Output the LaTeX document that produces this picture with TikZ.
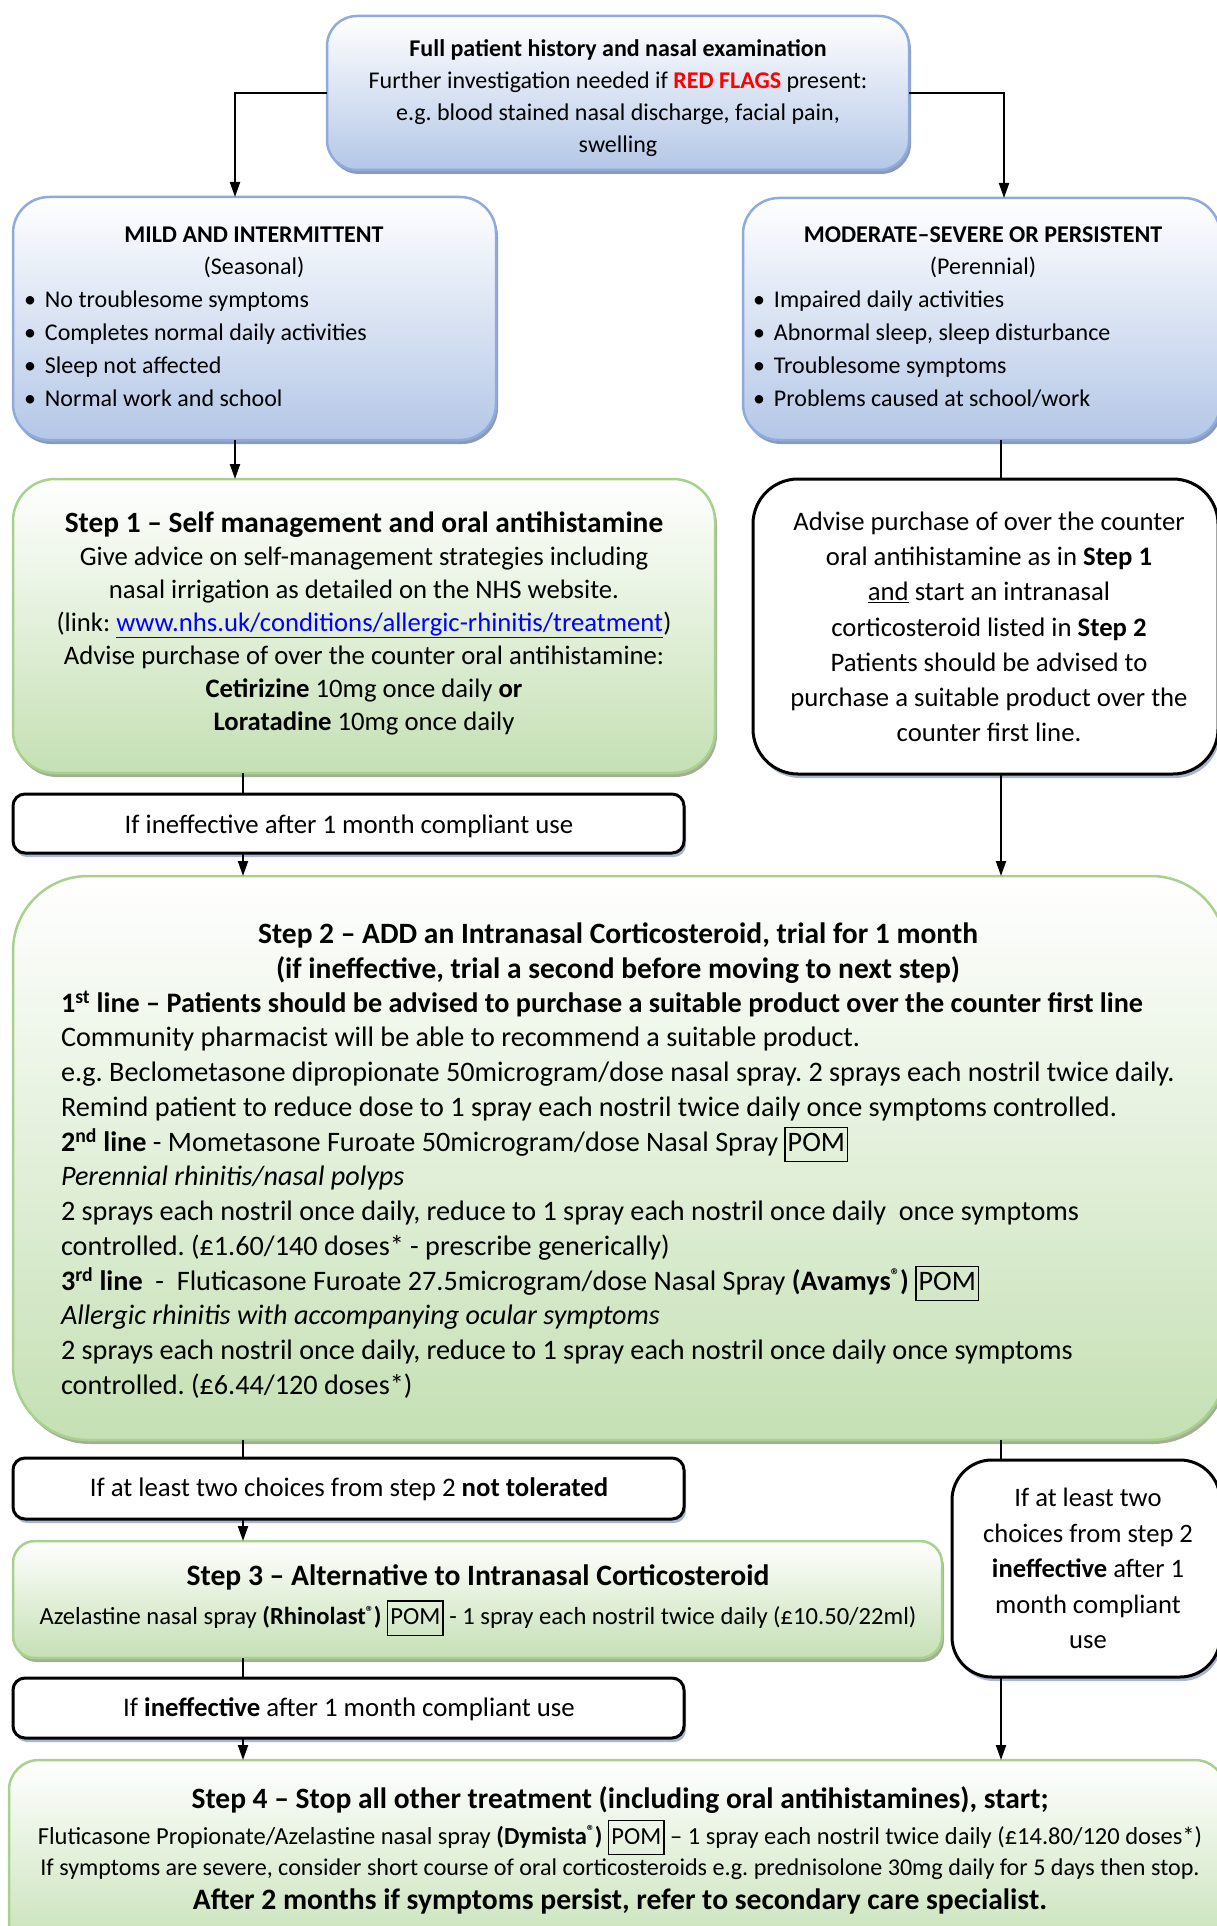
\documentclass[tikz,border=0pt]{standalone}
\usepackage{fontspec}
\setmainfont{Carlito}
\frenchspacing
\usetikzlibrary{arrows.meta,shadows}
\definecolor{blueE}{HTML}{8FAADC}
\definecolor{blueF}{HTML}{B4C7E7}
\definecolor{blueS}{HTML}{8A9BB8}
\definecolor{greenE}{HTML}{A9D18E}
\definecolor{greenF}{HTML}{C5E0B4}
\definecolor{greenS}{HTML}{A2AE97}
\definecolor{whiteS}{HTML}{A9B6D1}
\definecolor{linkblue}{HTML}{0000FF}
\definecolor{flagred}{HTML}{FF0000}
\newcommand\pombox{{\setlength{\fboxsep}{2pt}\setlength{\fboxrule}{1.3pt}\fbox{\rule[-8pt]{0pt}{29pt}POM}}}
\newcommand\regm{\raisebox{0.3em}{\fontsize{0.65em}{1em}\selectfont ®}}
\newcommand\fsz[2]{\fontsize{#1}{#2}\selectfont}
\tikzset{
  boxbase/.style={shape=rectangle, inner sep=0pt, outer sep=0pt},
  bluebox/.style={boxbase, draw=blueE, line width=2.5pt, top color=white, bottom color=blueF,
    drop shadow={shadow xshift=2pt, shadow yshift=-4pt, fill=blueS, opacity=1}},
  greenbox/.style={boxbase, draw=greenE, line width=2.5pt, top color=white, bottom color=greenF,
    drop shadow={shadow xshift=2pt, shadow yshift=-4pt, fill=greenS, opacity=1}},
  whitebox/.style={boxbase, draw=black, line width=3pt, fill=white,
    drop shadow={shadow xshift=2pt, shadow yshift=-4pt, fill=whiteS, opacity=1}},
  conn/.style={line width=2pt, draw=black},
  arr/.style={conn, -{Triangle[length=15pt,width=10pt]}},
  txt/.style={inner sep=0pt, outer sep=0pt, align=center},
  ltxt/.style={inner sep=0pt, outer sep=0pt, align=left, anchor=west},
}
\begin{document}
\begin{tikzpicture}[x=1pt,y=-1pt]
\useasboundingbox (0,0) rectangle (1216,1926);
% ---------- boxes ----------
\node[bluebox, minimum width=582pt, minimum height=154pt, rounded corners=30pt] (top) at (618,93) {};
\node[bluebox, minimum width=483pt, minimum height=243pt, rounded corners=36pt] (mild) at (254.5,318.5) {};
\node[bluebox, minimum width=477pt, minimum height=242pt, rounded corners=36pt] (mod) at (981.5,319) {};
\node[greenbox, minimum width=702pt, minimum height=294pt, rounded corners=42pt] (step1) at (364,626) {};
\node[whitebox, minimum width=465pt, minimum height=295pt, rounded corners=45pt] (adv) at (985.5,626.5) {};
\node[whitebox, minimum width=671pt, minimum height=59pt, rounded corners=12pt] (ineffA) at (348.5,823.5) {};
\node[greenbox, minimum width=1213pt, minimum height=564pt, rounded corners=75pt] (step2) at (619.5,1158) {};
\node[whitebox, minimum width=671pt, minimum height=61pt, rounded corners=12pt] (tol) at (348.5,1488.5) {};
\node[whitebox, minimum width=268pt, minimum height=217pt, rounded corners=40pt] (rbox) at (1086,1568.5) {};
\node[greenbox, minimum width=929pt, minimum height=117pt, rounded corners=22pt] (step3) at (477.5,1599.5) {};
\node[whitebox, minimum width=671pt, minimum height=60pt, rounded corners=12pt] (ineffB) at (348.5,1708) {};
\node[greenbox, minimum width=1216pt, minimum height=200pt, rounded corners=30pt] (step4) at (617,1860) {};
% ---------- connectors ----------
\draw[arr] (top.west) -| (mild.north -| 235,0);
\draw[arr] (top.east) -| (mod.north -| 1004,0);
\draw[arr] (mild.south -| 235,0) -- (step1.north -| 235,0);
\draw[conn] (mod.south -| 1001,0) -- (adv.north -| 1001,0);
\draw[conn] (step1.south -| 243,0) -- (ineffA.north -| 243,0);
\draw[arr] (ineffA.south -| 243,0) -- (step2.north -| 243,0);
\draw[arr] (adv.south -| 1001,0) -- (step2.north -| 1001,0);
\draw[conn] (step2.south -| 243,0) -- (tol.north -| 243,0);
\draw[arr] (tol.south -| 243,0) -- (step3.north -| 243,0);
\draw[conn] (step2.south -| 1001,0) -- (rbox.north -| 1001,0);
\draw[conn] (step3.south -| 243,0) -- (ineffB.north -| 243,0);
\draw[arr] (ineffB.south -| 243,0) -- (step4.north -| 243,0);
\draw[arr] (rbox.south -| 1001,0) -- (step4.north -| 1001,0);
% ---------- texts ----------
\node[txt, font=\fsz{24}{32}] (toptxt) at (618,98.5)
  {\textbf{Full patient history and nasal examination}\\
   Further investigation needed if \textcolor{flagred}{\textbf{RED FLAGS}} present:\\
   e.g. blood stained nasal discharge, facial pain,\\
   swelling};
\node[txt, font=\fsz{24}{32}] (mildh) at (254,252)
  {\textbf{MILD AND INTERMITTENT}\\(Seasonal)};
\node[ltxt, font=\fsz{24}{33}] (mildb) at (24,349)
  {\makebox[21pt][l]{•}No troublesome symptoms\\
   \makebox[21pt][l]{•}Completes normal daily activities\\
   \makebox[21pt][l]{•}Sleep not affected\\
   \makebox[21pt][l]{•}Normal work and school};
\node[txt, font=\fsz{24}{32}] (modh) at (983,252)
  {\textbf{MODERATE–SEVERE OR PERSISTENT}\\(Perennial)};
\node[ltxt, font=\fsz{24}{33}] (modb) at (753,349)
  {\makebox[21pt][l]{•}Impaired daily activities\\
   \makebox[21pt][l]{•}Abnormal sleep, sleep disturbance\\
   \makebox[21pt][l]{•}Troublesome symptoms\\
   \makebox[21pt][l]{•}Problems caused at school/work};
\node[txt, font=\fsz{29.4}{33}\bfseries] (s1t) at (364,525)
  {Step 1 – Self management and oral antihistamine};
\node[txt, font=\fsz{26.7}{33}] (s1b) at (364,641)
  {Give advice on self-management strategies including\\
   nasal irrigation as detailed on the NHS website.\\
   (link: \textcolor{linkblue}{\underline{www.nhs.uk/conditions/allergic-rhinitis/treatment}})\\
   Advise purchase of over the counter oral antihistamine:\\
   \textbf{Cetirizine} 10mg once daily \textbf{or}\\
   \textbf{Loratadine} 10mg once daily};
\node[txt, font=\fsz{26.7}{35.2}] (advt) at (989,627)
  {Advise purchase of over the counter\\
   oral antihistamine as in \textbf{Step 1}\\
   \underline{and} start an intranasal\\
   corticosteroid listed in \textbf{Step 2}\\
   Patients should be advised to\\
   purchase a suitable product over the\\
   counter first line.};
\node[txt, font=\fsz{26.8}{30}] (ineffAt) at (349,826)
  {If ineffective after 1 month compliant use};
\node[txt, font=\fsz{29.5}{35}\bfseries] (s2t) at (618,953)
  {Step 2 – ADD an Intranasal Corticosteroid, trial for 1 month\\
   (if ineffective, trial a second before moving to next step)};
\node[ltxt, font=\fsz{28.2}{34.75}] (s2b) at (61,1194.5)
  {\textbf{1\textsuperscript{st} line – Patients should be advised to purchase a suitable product over the counter first line}\\
   Community pharmacist will be able to recommend a suitable product.\\
   e.g. Beclometasone dipropionate 50microgram/dose nasal spray. 2 sprays each nostril twice daily.\\
   Remind patient to reduce dose to 1 spray each nostril twice daily once symptoms controlled.\\
   \textbf{2\textsuperscript{nd} line} - Mometasone Furoate 50microgram/dose Nasal Spray \pombox\\
   \textit{Perennial rhinitis/nasal polyps}\\
   2 sprays each nostril once daily, reduce to 1 spray each nostril once daily\ \ once symptoms\\
   controlled. (£1.60/140 doses* - prescribe generically)\\
   \textbf{3\textsuperscript{rd} line}\ \ -\ \ Fluticasone Furoate 27.5microgram/dose Nasal Spray \textbf{(Avamys\regm)} \pombox\\
   \textit{Allergic rhinitis with accompanying ocular symptoms}\\
   2 sprays each nostril once daily, reduce to 1 spray each nostril once daily once symptoms\\
   controlled. (£6.44/120 doses*)};
\node[txt, font=\fsz{26.8}{30}] (tolt) at (349,1489)
  {If at least two choices from step 2 \textbf{not tolerated}};
\node[txt, font=\fsz{26.6}{35.5}] (rboxt) at (1088,1568.5)
  {If at least two\\
   choices from step 2\\
   \textbf{ineffective} after 1\\
   month compliant\\
   use};
\node[txt, font=\fsz{29.6}{30}\bfseries] (s3t) at (478,1577.5)
  {Step 3 – Alternative to Intranasal Corticosteroid};
\node[txt, font=\fsz{24.6}{30}] (s3b) at (478,1618)
  {Azelastine nasal spray \textbf{(Rhinolast\regm)} \pombox\ - 1 spray each nostril twice daily (£10.50/22ml)};
\node[txt, font=\fsz{26.8}{30}] (ineffBt) at (349,1709)
  {If \textbf{ineffective} after 1 month compliant use};
\node[txt, font=\fsz{29.5}{30}\bfseries] (s4t) at (620,1800.5)
  {Step 4 – Stop all other treatment (including oral antihistamines), start;};
\node[txt, font=\fsz{24.5}{30}] (s4a) at (620,1837.5)
  {Fluticasone Propionate/Azelastine nasal spray \textbf{(Dymista\regm)} \pombox\ – 1 spray each nostril twice daily (£14.80/120 doses*)};
\node[txt, font=\fsz{24.1}{30}] (s4b) at (620,1869.5)
  {If symptoms are severe, consider short course of oral corticosteroids e.g. prednisolone 30mg daily for 5 days then stop.};
\node[txt, font=\fsz{29.6}{30}\bfseries] (s4c) at (620,1901.5)
  {After 2 months if symptoms persist, refer to secondary care specialist.};
\end{tikzpicture}
\end{document}
